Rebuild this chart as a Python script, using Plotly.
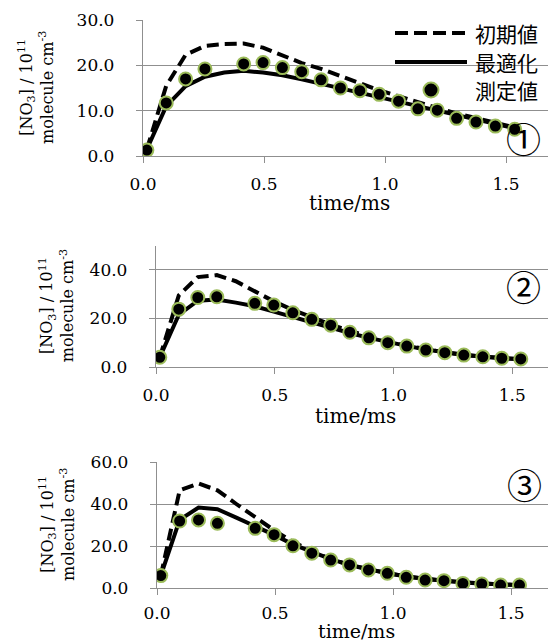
import plotly.graph_objects as go

# ---------------- data ----------------
model_time = [0.016, 0.096, 0.176, 0.256, 0.336, 0.416, 0.496, 0.576, 0.656, 0.736,
              0.816, 0.896, 0.976, 1.056, 1.136, 1.216, 1.296, 1.376, 1.456, 1.536]
meas_time = [0.016, 0.096, 0.176, 0.256, 0.416, 0.496, 0.576, 0.656, 0.736,
             0.816, 0.896, 0.976, 1.056, 1.136, 1.216, 1.296, 1.376, 1.456, 1.536]

p1_initial = [1.5, 15.5, 22.3, 24.3, 24.7, 24.8, 23.9, 22.2, 20.5, 19.2,
              17.6, 16.0, 14.5, 13.2, 11.8, 10.6, 9.4, 8.3, 7.3, 6.3]
p1_optimized = [1.5, 11.0, 15.4, 17.5, 18.4, 18.8, 18.4, 17.8, 16.9, 15.9,
                15.0, 14.0, 13.0, 12.0, 11.0, 10.0, 9.0, 8.0, 7.0, 6.1]
p1_measured = [1.3, 11.7, 17.0, 19.2, 20.3, 20.6, 19.5, 18.6, 16.8,
               15.0, 14.4, 13.6, 12.1, 10.4, 10.1, 8.3, 7.5, 6.6, 5.9]

p2_initial = [4.0, 29.5, 37.0, 37.8, 35.3, 31.3, 27.0, 23.5, 20.3, 17.5,
              14.9, 12.5, 10.4, 8.8, 7.3, 6.0, 5.0, 4.2, 3.6, 3.2]
p2_optimized = [4.0, 21.5, 27.3, 27.8, 26.5, 25.0, 22.8, 20.5, 18.3, 16.2,
                14.0, 12.0, 10.2, 8.7, 7.2, 6.0, 5.0, 4.2, 3.6, 3.2]
p2_measured = [4.0, 23.8, 28.6, 28.9, 26.2, 25.5, 22.3, 19.6, 17.2,
               14.3, 12.0, 10.0, 8.6, 7.0, 5.9, 4.9, 4.2, 3.6, 3.3]

p3_initial = [5.9, 46.5, 49.8, 46.5, 40.0, 33.5, 27.5, 22.0, 17.5, 13.8,
              11.0, 8.8, 7.0, 5.5, 4.3, 3.4, 2.7, 2.1, 1.7, 1.4]
p3_optimized = [5.9, 32.5, 38.3, 37.5, 33.5, 29.5, 25.3, 20.8, 17.0, 13.7,
                11.0, 8.8, 7.0, 5.5, 4.3, 3.4, 2.7, 2.1, 1.7, 1.4]
p3_measured = [5.9, 31.9, 32.4, 30.8, 28.4, 25.4, 20.1, 16.6, 13.3,
               11.0, 8.6, 7.0, 5.1, 3.8, 3.5, 2.2, 1.9, 1.4, 1.4]

series_names = ["初期値", "最適化", "測定値"]
panel_labels = ["①", "②", "③"]
x_ticks = [0.0, 0.5, 1.0, 1.5]
y_ticks = [[0, 10, 20, 30], [0, 20, 40], [0, 20, 40, 60]]
x_title = "time/ms"
y_title = "[NO<sub>3</sub>] / 10<sup>11</sup><br>molecule cm<sup>-3</sup>"

panels_data = [
    (p1_initial, p1_optimized, p1_measured),
    (p2_initial, p2_optimized, p2_measured),
    (p3_initial, p3_optimized, p3_measured),
]

# ---------------- layout geometry (pixels of the 556x644 page) ----------------
PAGE_W, PAGE_H = 556, 644
OFF = 8                      # default body margin of the html page
W, H = PAGE_W - OFF, PAGE_H - OFF
def fx(px):
    return (px - OFF) / W
def fy(py):
    return 1 - (py - OFF) / H

geom = [
    dict(x0=143, x1=555, xmax=(555 - 143) / 242.0, ytop=20, ybot=156, ymax=30,
         ytx=25, label=(523, 137), xt=(203, "middle"), xstand=6, xtsize=20),
    dict(x0=156, x1=555, xmax=(555 - 156) / 237.5, ytop=245.5, ybot=367, ymax=50,
         ytx=46, label=(523, 285), xt=(416, "middle"), xstand=6, xtsize=20),
    dict(x0=157, x1=555, xmax=(555 - 157) / 236.0, ytop=462, ybot=588, ymax=60,
         ytx=46, label=(524, 483), xt=(644, "bottom"), xstand=3, xtsize=19),
]

GRID = "#8f8f8f"
SERIF = "DejaVu Serif"
CJK = "Noto Sans CJK JP"
GREEN = "#9bbb59"

fig = go.Figure()
annotations = []
shapes = []
for i, ((ini, opt, mea), g) in enumerate(zip(panels_data, geom)):
    n = "" if i == 0 else str(i + 1)
    xa, ya = "x" + n, "y" + n
    fig.add_trace(go.Scatter(x=model_time, y=ini, mode="lines", name=series_names[0],
                             line=dict(color="black", width=4, dash="12px,6px"),
                             xaxis=xa, yaxis=ya, showlegend=False))
    fig.add_trace(go.Scatter(x=model_time, y=opt, mode="lines", name=series_names[1],
                             line=dict(color="black", width=4),
                             xaxis=xa, yaxis=ya, showlegend=False))
    fig.add_trace(go.Scatter(x=meas_time, y=mea, mode="markers", name=series_names[2],
                             marker=dict(color="black", size=13,
                                         line=dict(color=GREEN, width=2)),
                             xaxis=xa, yaxis=ya, showlegend=False))
    axis_common = dict(showline=True, linecolor=GRID, linewidth=1.3, ticks="outside",
                       ticklen=6, tickcolor=GRID, tickwidth=1.3, zeroline=False,
                       automargin=False,
                       tickfont=dict(family=SERIF, size=17, color="black"))
    fig.update_layout(**{
        "xaxis" + n: dict(domain=[fx(g["x0"]), fx(g["x1"])], range=[0, g["xmax"]],
                          anchor=ya, tickvals=x_ticks, tickformat=".1f", showgrid=False,
                          ticklabelstandoff=g["xstand"], **axis_common),
        "yaxis" + n: dict(domain=[fy(g["ybot"]), fy(g["ytop"])], range=[0, g["ymax"]],
                          anchor=xa, tickvals=y_ticks[i], tickformat=".1f", showgrid=True,
                          gridcolor=GRID, gridwidth=1.3, ticklabelstandoff=18,
                          **axis_common),
    })
    # x-axis title
    annotations.append(dict(text=x_title, xref="paper", yref="paper",
                            x=(fx(g["x0"]) + fx(g["x1"])) / 2, y=fy(g["xt"][0]),
                            xanchor="center", yanchor=g["xt"][1], showarrow=False,
                            font=dict(family=SERIF, size=g["xtsize"], color="black")))
    # y-axis title
    annotations.append(dict(text=y_title, xref="paper", yref="paper", textangle=-90,
                            x=fx(g["ytx"] - 12), y=fy((g["ytop"] + g["ybot"]) / 2),
                            xanchor="left", yanchor="middle", showarrow=False,
                            font=dict(family=SERIF, size=16, color="black")))
    annotations.append(dict(text=panel_labels[i], xref="paper", yref="paper",
                            x=fx(g["label"][0]), y=fy(g["label"][1]),
                            xanchor="center", yanchor="middle", showarrow=False,
                            font=dict(family=CJK, size=35, color="black")))

# legend drawn as a key (line samples, marker sample, labels)
key_rows = [33, 62, 90]
key_x0, key_x1, key_text = 395, 467, 473
shapes.append(dict(type="line", xref="paper", yref="paper",
                   x0=fx(key_x0), x1=fx(key_x1), y0=fy(key_rows[0]), y1=fy(key_rows[0]),
                   line=dict(color="black", width=4, dash="13px,6px")))
shapes.append(dict(type="line", xref="paper", yref="paper",
                   x0=fx(key_x0), x1=fx(key_x1), y0=fy(key_rows[1]), y1=fy(key_rows[1]),
                   line=dict(color="black", width=4)))
cx, cy, r = (key_x0 + key_x1) / 2, key_rows[2], 7.5
shapes.append(dict(type="circle", xref="paper", yref="paper",
                   x0=fx(cx - r), x1=fx(cx + r), y0=fy(cy + r), y1=fy(cy - r),
                   fillcolor="black", line=dict(color=GREEN, width=2)))
for name, row in zip(series_names, key_rows):
    annotations.append(dict(text=name, xref="paper", yref="paper",
                            x=fx(key_text), y=fy(row), xanchor="left", yanchor="middle",
                            showarrow=False, font=dict(family=CJK, size=21, color="black")))

fig.update_layout(
    template="none",
    width=W, height=H, margin=dict(l=0, r=0, t=0, b=0),
    paper_bgcolor="white", plot_bgcolor="white",
    annotations=annotations, shapes=shapes, showlegend=False,
)

fig.write_html("out.html")
